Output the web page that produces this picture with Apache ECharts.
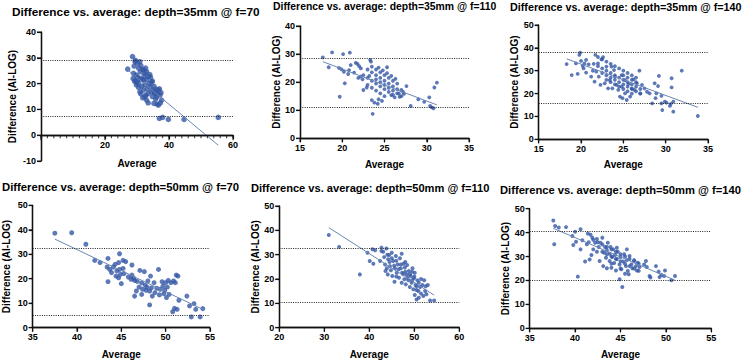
<!DOCTYPE html>
<html>
<head>
<meta charset="utf-8">
<script src="https://cdn.jsdelivr.net/npm/echarts@6/dist/echarts.min.js"></script>
<style>
  html, body { margin: 0; padding: 0; background: #fff; }
  #wrap { position: relative; width: 743px; height: 362px; }
  .panel { position: absolute; left: 0; top: 0; width: 743px; height: 362px; }
</style>
</head>
<body>
<div id="wrap"></div>
<script>
// titles of the six panels
const titles = [
  'Difference vs. average: depth=35mm @ f=70',
  'Difference vs. average: depth=35mm @ f=110',
  'Difference vs. average: depth=35mm @ f=140',
  'Difference vs. average: depth=50mm @ f=70',
  'Difference vs. average: depth=50mm @ f=110',
  'Difference vs. average: depth=50mm @ f=140'
]

// [average, difference] points
const pts35f70 = [
  [28.6,30.5],[27.1,25.6],[29.4,28.5],[30.1,27.9],[30.9,28.5],[29.1,26.8],[29.7,23.3],[28.8,22.0],
  [29.7,20.7],[30.4,20.1],[30.9,22.0],[32.0,25.3],[32.5,24.0],[33.0,24.6],[33.5,22.7],[32.0,21.4],
  [32.5,19.5],[30.9,16.8],[32.5,14.9],[33.0,13.6],[33.5,16.2],[34.1,18.8],[34.6,20.7],[35.1,17.5],
  [35.6,16.2],[36.2,14.9],[36.7,17.5],[37.2,15.6],[35.3,12.3],[36.7,11.7],[37.7,13.6],[37.0,6.5],
  [38.0,6.9],[39.8,6.1],[44.7,6.1],[55.4,6.9],[29.5,29.0],[30.5,26.0],[31.2,27.0],[31.8,25.5],
  [32.2,23.0],[31.0,24.5],[30.2,22.5],[29.2,21.0],[29.8,19.5],[30.5,18.5],[31.5,19.0],[31.2,16.0],
  [31.8,14.5],[32.8,15.5],[33.2,18.0],[33.8,20.0],[34.2,22.5],[34.5,17.0],[34.8,15.0],[35.3,19.0],
  [35.8,14.0],[36.0,17.8],[36.5,16.0],[37.0,18.0],[37.5,16.5],[36.3,12.0],[37.3,12.5],[33.5,12.5],
  [32.0,17.5],[28.9,24.0],[30.0,21.0],[33.0,21.5],[34.0,23.5],[34.8,21.0],[35.5,16.5],[31.5,21.5],
  [32.7,26.0]
]
const pts35f110 = [
  [17.7,28.8],[18.4,25.3],[18.8,30.6],[19.6,25.1],[19.7,14.8],[19.9,24.6],[20.1,30.0],[20.2,23.7],
  [20.3,19.6],[20.7,22.9],[20.8,24.3],[20.9,30.5],[21.0,26.1],[21.4,23.4],[21.6,26.9],[21.8,26.5],
  [22.0,25.7],[22.2,24.9],[22.4,21.0],[22.5,17.2],[22.9,18.1],[23.2,22.2],[23.3,27.9],[23.4,27.3],
  [23.5,13.6],[23.6,8.7],[23.8,12.7],[27.6,18.6],[27.0,17.2],[26.7,16.0],[28.1,11.5],[29.0,13.9],
  [29.7,13.0],[30.3,14.6],[30.4,11.5],[30.6,11.0],[30.8,10.7],[30.9,18.1],[31.2,19.8],[26.2,14.6],
  [25.8,15.4],[24.3,13.9],
  [23.0,24.5],[23.5,23.5],[24.0,22.5],[24.5,21.5],[25.0,20.5],[25.5,19.5],[26.0,18.5],[26.5,17.5],
  [23.5,25.5],[24.0,24.5],[24.5,23.5],[25.0,22.5],[25.5,21.5],[26.0,20.5],[26.5,19.5],
  [22.5,22.5],[23.0,21.5],[23.5,20.5],[24.0,19.5],[24.5,18.5],[25.0,17.5],[25.5,16.5],[26.0,15.5],
  [23.0,19.0],[23.5,18.0],[24.0,17.0],[24.5,16.0],[25.0,15.0],
  [24.3,25.2],[24.8,24.2],[25.3,23.2],[25.8,22.2],[26.3,21.2],
  [24.0,21.0],[24.5,20.0],[25.0,19.0],[25.5,18.0],[26.0,17.0],[26.5,16.0],[27.0,15.0],
  [21.9,21.5],[22.2,22.0],[25.3,25.3],[24.2,12.3],[24.7,13.3],[27.3,15.8],[26.8,14.8],[27.2,16.5]
]
const pts35f140 = [
  [18.3,32.9],[18.9,28.1],[19.4,33.2],[19.6,28.6],[19.8,36.9],[19.9,37.9],[20.0,34.3],[20.2,32.1],
  [20.4,33.2],[20.3,31.0],[20.6,29.2],[20.6,34.7],[20.9,32.8],[21.2,27.4],[21.4,30.0],[21.6,25.2],
  [21.8,29.6],[21.7,36.9],[22.0,33.2],[22.1,27.4],[22.3,23.8],[22.4,35.0],[22.6,35.9],[22.8,24.5],
  [23.0,31.8],[23.2,22.3],[23.4,25.9],[23.6,31.8],[23.7,22.3],[23.9,30.3],[24.0,27.4],[24.2,23.8],
  [24.4,21.6],[24.6,18.7],[24.8,28.1],[24.8,23.0],[25.2,25.9],[24.9,18.0],[25.2,20.1],[25.4,17.2],
  [25.6,24.2],[25.8,18.7],[26.0,22.3],[26.2,26.2],[26.3,21.6],[26.6,24.5],[26.9,30.0],[27.0,20.1],
  [27.2,23.8],[27.5,22.3],[27.8,20.8],[28.1,20.1],[28.4,15.7],[28.7,24.5],[28.9,20.1],[28.8,18.0],
  [29.1,23.3],[29.2,27.7],[29.5,19.0],[29.5,15.7],[29.6,12.8],[29.9,16.5],[30.1,16.0],[30.5,14.6],
  [30.6,15.5],[30.7,26.7],[30.7,22.7],[30.9,12.1],[30.9,16.5],[31.9,30.0],[33.8,10.2],
  [22.0,36.0],[22.5,35.0],[23.0,34.0],[23.5,33.0],[24.0,32.0],[24.5,31.0],[25.0,30.0],[25.5,29.0],
  [26.0,28.0],[26.5,27.0],
  [21.5,33.0],[22.0,32.0],[22.5,31.0],[23.0,30.0],[23.5,29.0],[24.0,28.0],[24.5,27.0],[25.0,26.0],
  [25.5,25.0],[26.0,24.0],[26.5,23.0],[27.0,22.0],
  [22.5,29.0],[23.0,28.0],[23.5,27.0],[24.0,26.0],[24.5,25.0],[25.0,24.0],[25.5,23.0],[26.0,22.0],
  [26.5,21.0],[27.0,20.0],
  [23.0,26.0],[23.5,25.0],[24.0,24.0],[24.5,23.0],[25.0,22.0],[25.5,21.0],[26.0,20.0],
  [25.0,28.0],[25.5,27.0],[26.0,26.0],[26.5,25.0]
]
const pts50f70 = [
  [37.5,38.6],[39.4,38.8],[41.0,34.1],[42.0,27.5],[42.6,26.6],[43.4,24.8],[43.5,28.3],[43.5,18.8],
  [43.7,23.8],[43.9,22.5],[44.1,24.8],[44.3,25.9],[44.4,21.1],[44.5,23.2],[44.7,26.6],[44.7,20.4],
  [44.8,30.2],[44.8,23.8],[44.9,21.8],[45.0,18.0],[45.2,27.5],[45.2,24.2],[45.3,22.1],[45.5,27.0],
  [45.8,20.7],[46.1,19.8],[46.2,21.5],[46.2,25.6],[46.4,20.2],[46.5,19.3],[46.5,12.9],[46.7,15.0],
  [46.8,18.9],[47.0,16.6],[47.1,23.4],[47.3,18.3],[47.3,13.6],[47.4,15.7],[47.6,22.9],[47.7,17.4],
  [47.8,15.3],[47.9,16.6],[48.0,19.1],[48.2,15.0],[48.2,9.3],[48.3,21.1],[48.4,16.3],[48.5,12.9],
  [48.7,18.4],[48.8,14.3],[49.0,16.1],[49.2,23.8],[49.3,13.4],[49.4,15.7],[49.6,18.8],[49.7,17.0],
  [49.8,13.9],[49.9,15.3],[50.0,18.4],[50.1,12.3],[50.2,16.6],[50.3,19.3],[50.4,13.6],[50.6,18.4],
  [50.8,6.5],[50.9,19.1],[51.0,7.9],[51.1,18.4],[51.2,21.5],[51.3,7.5],[51.4,21.1],[51.5,11.2],
  [52.4,12.9],[52.7,8.9],[52.9,4.4],[53.2,9.8],[53.4,7.5],[53.9,4.4],[54.2,7.8]
]
const pts50f110 = [
  [31.0,38.1],[33.3,33.2],[37.9,21.9],[39.6,30.8],[40.1,27.4],[40.9,26.3],[40.7,32.2],[41.3,31.8],
  [42.4,27.4],[42.7,32.9],[43.1,31.2],[43.3,29.0],[43.5,26.0],[43.6,23.3],[43.9,24.4],[44.1,21.9],
  [44.2,28.1],[44.4,29.9],[44.6,25.3],[44.8,23.6],[45.0,30.8],[45.1,21.2],[45.3,27.4],[45.6,18.9],
  [45.7,24.4],[45.9,29.5],[46.1,22.6],[46.3,26.0],[46.6,20.5],[46.8,28.5],[47.0,24.4],[47.2,18.5],
  [47.2,30.4],[47.3,22.6],[47.6,26.3],[47.8,19.9],[47.9,24.7],[48.1,17.8],[48.3,21.9],[48.4,25.8],
  [48.7,19.5],[48.8,23.3],[49.0,16.7],[49.2,21.2],[49.4,18.5],[49.6,24.4],[49.8,15.8],[49.9,20.3],
  [50.1,13.4],[50.1,22.6],[50.3,17.5],[50.5,11.6],[50.7,19.5],[50.9,15.1],[51.0,12.3],[51.3,16.7],
  [51.5,14.0],[51.8,17.5],[52.0,13.0],[52.2,19.5],[52.4,15.1],[52.7,13.7],[53.0,17.5],[53.5,11.2],
  [54.4,11.2],
  [44.5,27.0],[45.5,25.5],[46.5,24.0],[47.5,22.0],[48.5,20.5],[49.5,19.5],[50.5,17.0],[46.0,27.5],
  [47.0,26.0],[48.0,23.0],[49.0,22.0],[50.0,21.0],[51.0,18.5],[44.0,30.0],[45.0,28.5],[46.0,21.0],
  [48.0,27.0],[49.5,23.0],[51.5,20.0],[50.5,15.5],[52.5,17.0],[43.8,32.5],[42.7,31.5]
]
const pts50f140 = [
  [37.6,45.1],[37.7,35.1],[37.8,42.8],[38.2,42.1],[39.0,42.3],[39.7,38.6],[39.8,34.8],[40.0,40.4],
  [40.1,36.2],[40.3,21.6],[40.6,41.4],[40.6,33.0],[40.8,36.8],[41.1,27.9],[41.3,35.1],[41.4,39.6],
  [41.6,28.8],[41.7,39.1],[41.8,30.6],[41.9,37.9],[42.0,33.0],[42.2,35.8],[42.4,37.3],[42.4,32.0],
  [42.6,34.0],[42.7,28.1],[42.8,35.8],[43.0,37.9],[43.1,26.0],[43.2,31.6],[43.3,34.0],[43.4,29.5],
  [43.5,25.1],[43.5,32.6],[43.6,35.8],[43.8,28.1],[43.8,31.2],[43.9,34.0],[44.0,25.3],[44.1,29.8],
  [44.2,33.0],[44.3,27.3],[44.4,30.6],[44.5,24.2],[44.6,33.7],[44.6,29.0],[44.7,32.0],[44.9,26.7],
  [44.9,20.5],[45.0,29.8],[45.1,24.7],[45.2,17.3],[45.3,27.9],[45.4,31.0],[45.5,22.8],[45.6,26.0],
  [45.7,33.0],[45.7,28.5],[45.8,24.0],[45.9,22.6],[46.0,30.2],[46.2,26.7],[46.3,25.1],[46.5,28.5],
  [46.7,26.0],[46.8,24.2],[46.9,27.4],[47.1,25.6],[47.6,26.7],[47.8,28.1],[47.9,25.6],[48.2,21.9],
  [48.3,21.2],[48.9,26.0],[49.2,23.7],[49.3,21.4],[49.5,22.3],[49.9,24.2],[49.8,21.9],[50.6,20.1],
  [51.0,21.9],
  [42.0,37.0],[42.5,36.0],[43.0,35.0],[43.5,34.0],[44.0,33.0],[44.5,32.0],[45.0,31.0],[45.5,30.0],
  [46.0,29.0],[46.5,28.0],[47.0,27.0],[43.0,32.0],[43.5,31.0],[44.0,30.0],[44.5,29.0],[45.0,28.0],
  [45.5,27.0],[46.0,26.0],[46.5,25.0],[47.0,24.0],[41.5,36.0],[44.0,27.0],[45.0,25.0]
]
const points = [pts35f70, pts35f110, pts35f140, pts50f70, pts50f110, pts50f140]

// limits of agreement (upper, lower) per panel
const limits = [[29.0, 7.2], [28.5, 11.0], [38.0, 15.6], [32.4, 5.0], [32.7, 10.5], [40.7, 20.2]]

// regression line end points per panel
const fits = [
  [[27.1, 25.3], [55.4, -3.9]],
  [[17.7, 27.3], [31.2, 11.9]],
  [[18.3, 35.2], [33.8, 14.0]],
  [[37.5, 36.2], [54.2, 7.5]],
  [[31.0, 41.1], [54.4, 13.4]],
  [[37.6, 41.8], [51.0, 20.1]]
]

// axis ranges: [min, max, interval]; the x axis sits at xBase on the y scale
const xRanges = [[0, 60, 20], [15, 35, 5], [15, 35, 5], [35, 55, 5], [20, 60, 10], [35, 55, 5]]
const yRanges = [[-10, 40, 10], [0, 40, 10], [0, 50, 10], [0, 50, 10], [0, 50, 10], [0, 50, 10]]
const xBase = [0, 0, 0, 0, 0, 0]
const minorStep = [2, 0, 0, 0, 0, 0]

// layout of each panel (pixels); xOff lifts the first x axis up to y = 0
const layout = [
  { left: 41, top: 32, width: 192, height: 129, xOff: -25.8, tLeft: 12, tTop: 5.5, tSize: 11.8, yGap: 24, xGap: 23, dot: 5.5 },
  { left: 300, top: 26, width: 169, height: 112.3, xOff: 0, tLeft: 273, tTop: 1, tSize: 10.4, yGap: 17.5, xGap: 21, dot: 3.8 },
  { left: 538.7, top: 25, width: 169.3, height: 114.3, xOff: 0, tLeft: 510, tTop: 1, tSize: 10.75, yGap: 19, xGap: 20.5, dot: 3.8 },
  { left: 32.7, top: 205.3, width: 177.2, height: 122.4, xOff: 0, tLeft: 2, tTop: 181, tSize: 11.3, yGap: 21, xGap: 22, dot: 5 },
  { left: 279.3, top: 206, width: 180, height: 121.7, xOff: 0, tLeft: 251, tTop: 182.5, tSize: 11.1, yGap: 18.5, xGap: 22, dot: 4 },
  { left: 529.7, top: 208.7, width: 181.6, height: 119.6, xOff: 0, tLeft: 500, tTop: 184, tSize: 11.2, yGap: 18, xGap: 21.5, dot: 4 }
]

const FONT = 'Liberation Sans, Arial, sans-serif'
const ink = '#111'
const dotColor = '#3457a5'
const fitColor = '#6a87b6'
const boldText = { color: '#000', fontWeight: 'bold', fontFamily: FONT }

const stepsOf = (min, max, step) => {
  const out = []
  for (let v = min; v <= max + 1e-9; v += step) out.push(+v.toFixed(6))
  return out
}

const makeAxis = (r, i, isX) => {
  const l = layout[i]
  const axis = {
    type: 'value',
    min: r[0], max: r[1], interval: r[2],
    name: isX ? 'Average' : 'Difference (AI-LOG)',
    nameLocation: 'middle',
    nameGap: isX ? l.xGap : l.yGap,
    nameTextStyle: { ...boldText, fontSize: 10 },
    splitLine: { show: false },
    axisLine: { show: true, onZero: false, lineStyle: { color: ink, width: 1.3 } },
    axisTick: { show: true, length: 4, lineStyle: { color: ink, width: 1.2 } },
    axisLabel: { ...boldText, fontSize: 9, margin: 5 }
  }
  if (!isX) axis.nameRotate = 90
  if (isX && l.xOff) axis.offset = l.xOff
  if (isX && i === 0) axis.axisLabel.formatter = v => (v === 0 ? '' : String(v))
  return axis
}

// axis lines and ticks also drawn as marks on the panel's own scales
const tickSeries = (data, size, offset) => ({
  type: 'scatter',
  data,
  symbol: 'rect',
  symbolSize: size,
  symbolOffset: offset,
  clip: false,
  silent: true,
  z: 4,
  itemStyle: { color: ink }
})

// one chart instance per panel, stacked on the same area
for (let i = 0; i < 6; i++) {
  const div = document.createElement('div')
  div.className = 'panel'
  document.getElementById('wrap').appendChild(div)
  const chart = echarts.init(div, null, { renderer: 'svg' })
  const l = layout[i]
  const [x0, x1, xi] = xRanges[i]
  const [y0, y1, yi] = yRanges[i]
  const yTicks = stepsOf(y0, y1, yi).map(v => [x0, v])
  const xTicks = stepsOf(x0, x1, xi).map(v => [v, xBase[i]])
  const series = [
    {
      type: 'scatter',
      data: points[i],
      symbolSize: l.dot,
      itemStyle: { color: dotColor },
      silent: true,
      markLine: {
        silent: true,
        symbol: ['none', 'none'],
        label: { show: false },
        lineStyle: { color: '#222', type: [1, 1.3], width: 1 },
        data: limits[i].map(v => ({ yAxis: v }))
      }
    },
    {
      type: 'line',
      data: fits[i],
      symbol: 'none',
      silent: true,
      z: 3,
      lineStyle: { color: fitColor, width: 1 }
    },
    {
      ...tickSeries(yTicks, [4, 1.2], [-2, 0]),
      markLine: {
        silent: true,
        symbol: ['none', 'none'],
        label: { show: false },
        lineStyle: { color: ink, type: 'solid', width: 1.3 },
        data: [{ xAxis: x0 }, { yAxis: xBase[i] }]
      }
    },
    tickSeries(xTicks, [1.2, i === 0 ? 5 : 4], [0, i === 0 ? 2.5 : 2])
  ]
  if (minorStep[i]) {
    series.push(tickSeries(stepsOf(x0, x1, minorStep[i]).map(v => [v, xBase[i]]), [1.1, 3], [0, 1.5]))
  }
  chart.setOption({
    animation: false,
    title: {
      text: titles[i], left: l.tLeft, top: l.tTop, padding: 0,
      textStyle: { ...boldText, fontSize: l.tSize }
    },
    grid: { left: l.left, top: l.top, width: l.width, height: l.height },
    xAxis: makeAxis(xRanges[i], i, true),
    yAxis: makeAxis(yRanges[i], i, false),
    series
  })
}
</script>
</body>
</html>
